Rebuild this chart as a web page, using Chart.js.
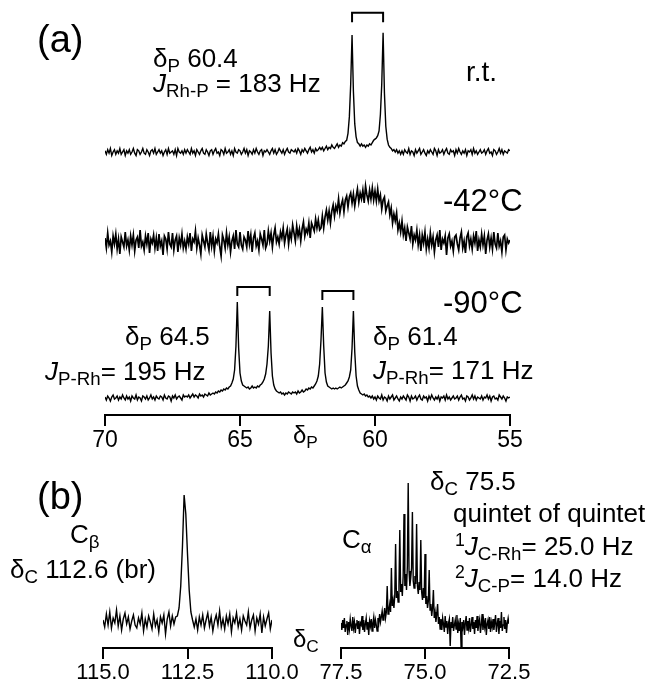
<!DOCTYPE html>
<html>
<head>
<meta charset="utf-8">
<script src="https://cdn.jsdelivr.net/npm/chart.js@4.4.1/dist/chart.umd.min.js"></script>
<style>
  html, body { margin: 0; padding: 0; background: #fff; }
  #fig { position: relative; width: 652px; height: 681px; overflow: hidden;
         font-family: "Liberation Sans", Arial, Helvetica, sans-serif; color: #000; }
  #fig canvas { position: absolute; }
  .t { position: absolute; font-size: 26px; line-height: 1; white-space: nowrap; }
  .t sub { font-size: 0.72em; vertical-align: -0.28em; line-height: 0; }
  .t sup { font-size: 0.68em; vertical-align: 0.5em; line-height: 0; }
  .big { font-size: 38px; }
  .temp { font-size: 31px; }
  .rt { font-size: 28px; }
  .ax { font-size: 24px; }
</style>
</head>
<body>
<div id="fig">
  <canvas id="chartA" width="455" height="460" style="left:80px;top:0px"></canvas>
  <canvas id="chartB1" width="229" height="241" style="left:73px;top:440px"></canvas>
  <canvas id="chartB2" width="228" height="241" style="left:311px;top:440px"></canvas>

  <div class="t big" style="left:37px;top:20px">(a)</div>
  <div class="t" style="left:153px;top:45px">δ<sub>P</sub> 60.4</div>
  <div class="t" style="left:153px;top:70px"><i>J</i><sub>Rh-P</sub> = 183 Hz</div>
  <div class="t rt" style="left:466px;top:58px">r.t.</div>
  <div class="t temp" style="left:443px;top:185px">-42°C</div>
  <div class="t temp" style="left:443px;top:287px">-90°C</div>
  <div class="t" style="left:125px;top:323px">δ<sub>P</sub> 64.5</div>
  <div class="t" style="left:45px;top:358px"><i>J</i><sub>P-Rh</sub>= 195 Hz</div>
  <div class="t" style="left:373px;top:323px">δ<sub>P</sub> 61.4</div>
  <div class="t" style="left:373px;top:357px"><i>J</i><sub>P-Rh</sub>= 171 Hz</div>
  <div class="t ax" style="left:293px;top:423px">δ<sub>P</sub></div>

  <div class="t big" style="left:37px;top:477px">(b)</div>
  <div class="t" style="left:70px;top:521px">C<sub>β</sub></div>
  <div class="t" style="left:10px;top:556px">δ<sub>C</sub> 112.6 (br)</div>
  <div class="t" style="left:342px;top:526px">C<sub>α</sub></div>
  <div class="t" style="left:430px;top:468px">δ<sub>C</sub> 75.5</div>
  <div class="t" style="left:453px;top:500px">quintet of quintet</div>
  <div class="t" style="left:455px;top:533px"><sup>1</sup><i>J</i><sub>C-Rh</sub>= 25.0 Hz</div>
  <div class="t" style="left:455px;top:565px"><sup>2</sup><i>J</i><sub>C-P</sub>= 14.0 Hz</div>
  <div class="t ax" style="left:293px;top:627px">δ<sub>C</sub></div>
</div>

<script>
// 31P spectra, 70 -> 55 ppm, one value every 0.05 ppm (301 points)
const rtVals = [
  1,-2,2,-1,3,-3,0,2,-2,1,-1,3,-2,0,2,-3,1,-1,2,-2,
  0,3,-1,-3,2,1,-2,0,3,-1,-2,2,0,-3,1,2,-1,3,-2,0,
  2,-1,1,-3,0,2,-2,3,-1,0,1,-2,2,-3,3,0,-1,1,-2,2,
  -1,2,0,-2,3,-1,1,-3,2,0,-2,1,3,-1,-2,2,0,-3,1,2,
  -2,1,3,-1,0,-3,2,1,-2,3,-1,0,2,-2,1,-3,3,0,-1,2,
  1,-2,0,3,-1,2,-3,1,0,-2,2,-1,3,0,-2,1,2,-3,1,0,
  2,0,-2,1,3,-1,2,-2,0,3,1,-1,2,-2,1,3,0,-1,2,1,
  0,2,-1,3,1,-2,2,0,3,1,-1,2,4,0,2,-1,3,1,2,4,
  2,4,1,3,5,2,4,3,6,4,3,5,7,4,6,5,8,7,9,10,
  16,30,58,100,52,24,13,8,7,5,7,5,6,4,6,5,7,6,8,10,
  11,12,14,18,32,58,102,50,22,11,6,4,3,1,2,0,2,-1,1,-2,
  1,-2,2,0,-1,3,-2,1,0,-3,2,-1,1,3,-2,0,2,-1,-3,1,
  -1,2,0,-2,3,1,-3,2,-1,0,2,-2,1,3,-1,-2,2,0,1,-3,
  2,-1,3,0,-2,1,-1,2,-3,1,0,2,-2,3,-1,1,-2,0,2,-1,
  0,2,-2,1,3,-1,0,-3,2,1,-2,0,3,-1,2,-2,1,0,-1,2,
  1
];
const m42Vals = [
  4,-6,9,-3,1,-10,6,-2,8,-7,3,-12,5,0,-5,10,-4,2,-8,6,
  -3,7,-9,2,5,-6,12,-4,0,-8,6,-2,9,-11,3,-1,7,-6,4,-9,
  8,-4,1,-13,6,3,-7,10,-2,-5,9,-8,2,6,-10,4,-3,8,-6,1,
  -7,5,-2,9,-9,3,0,11,-6,4,-3,-12,7,1,-5,8,-1,-8,10,-4,
  6,-9,3,-1,8,-5,-14,7,2,-6,9,-3,5,-10,1,6,-7,12,-2,-5,
  10,-3,-7,5,2,-5,11,-2,7,-10,4,9,-4,1,-8,8,3,-3,12,-6,
  -2,11,1,9,-5,7,14,0,5,-2,10,4,14,-1,7,13,-2,10,3,17,
  9,1,16,6,13,1,13,20,6,13,9,19,4,19,15,11,23,14,22,12,
  14,26,14,25,32,22,31,19,31,37,26,36,31,43,29,37,42,30,42,46,
  35,45,49,39,48,36,45,53,40,49,43,52,39,56,47,41,52,43,54,42,
  51,41,53,41,47,33,42,45,31,36,40,27,34,19,28,21,29,12,19,10,
  21,7,14,1,15,9,3,16,-2,7,2,12,-3,7,-9,7,-1,10,-7,3,
  -6,9,-3,5,-10,2,7,-5,12,-8,3,-1,6,-13,4,8,-4,1,-9,5,
  7,-2,-8,4,10,-6,1,-11,5,9,-4,3,-7,6,-1,11,-9,2,-5,8,
  -3,6,-12,2,8,-5,4,-7,10,-2,-6,9,-4,1,-10,5,7,-8,3,-1,
  2
];
const m90Vals = [
  1,-2,2,0,-3,1,3,-1,0,2,-2,1,-1,3,0,-2,2,-1,1,-3,
  2,0,-1,3,-2,1,0,-3,2,1,-1,2,-2,0,3,-1,1,-2,2,0,
  -1,2,1,-2,3,0,-1,2,1,-3,2,0,3,-1,1,2,0,-2,3,1,
  2,1,3,0,2,4,1,3,2,0,4,2,3,1,4,3,2,5,3,4,
  5,4,6,5,7,6,8,7,9,8,10,9,11,12,15,19,28,52,96,50,
  25,17,13,12,11,10,11,9,10,12,10,11,10,12,11,13,14,16,19,24,
  34,52,87,45,22,13,9,7,6,5,6,4,5,3,5,4,6,5,4,6,
  5,6,4,7,5,6,8,6,7,9,8,10,9,11,10,12,14,17,22,34,
  58,91,52,25,16,12,11,10,9,10,9,10,9,10,11,10,11,12,13,15,
  17,21,28,50,87,46,22,12,8,5,4,3,4,2,3,1,2,0,2,-1,
  1,-2,2,0,-1,3,-2,1,0,-3,2,-1,1,3,-2,0,2,-1,-3,1,
  -1,2,0,-2,3,1,-3,2,-1,0,2,-2,1,3,-1,-2,2,0,1,-3,
  2,-1,3,0,-2,1,-1,2,-3,1,0,2,-2,3,-1,1,-2,0,2,-1,
  0,2,-2,1,3,-1,0,-3,2,1,-2,0,3,-1,2,-2,1,0,-1,2,
  -2,1,0,3,-1,2,-3,1,2,-1,0,-2,3,1,-1,2,0,-3,1,0,
  1
];
// 13C C-beta, 115 -> 110 ppm every 0.05 ppm (101 points)
const cbVals = [
  2,-5,8,-3,10,-6,4,-1,12,-4,6,-8,3,9,-2,5,-7,1,7,-3,
  -6,4,-2,9,-9,3,-5,6,0,-7,8,-4,2,-10,5,-1,7,-12,3,10,
  -4,6,-2,5,6,14,36,75,127,108,68,32,10,2,-5,3,-8,5,-3,7,
  -6,2,9,-4,5,-9,1,7,-3,11,-5,3,-7,6,-2,8,-10,4,-1,9,
  -5,3,-8,6,1,-3,10,-6,2,7,-9,4,-2,8,-11,5,-4,3,9,-7,
  2
];
// 13C C-alpha, 77.5 -> 72.5 ppm every 0.025 ppm (201 points)
const caVals = [
  3,-4,6,-2,8,-6,1,5,-9,4,-3,7,0,-5,9,-2,4,-7,2,6,
  -3,5,-8,3,1,10,-4,6,-6,2,8,-3,4,-9,5,0,7,-5,3,9,
  -2,6,1,-5,8,3,12,4,9,15,6,10,18,8,14,40,12,16,22,14,
  58,20,26,18,30,82,28,35,24,40,96,34,42,30,50,112,40,52,36,60,
  143,55,40,48,58,114,45,38,50,42,102,40,32,44,36,86,34,26,38,28,
  72,22,30,18,25,56,16,22,10,18,36,8,14,4,12,22,2,9,-3,7,
  -4,8,2,-6,10,-1,5,-8,3,7,-20,4,-2,9,-5,1,6,-3,11,-7,
  2,-5,8,-22,4,-1,6,-9,3,10,-4,5,-2,8,-6,1,9,-3,4,-8,
  6,-2,10,-5,3,7,-7,1,12,-4,5,-1,8,-9,2,6,-3,9,-6,4,
  -1,7,-4,3,11,-6,2,8,-8,5,-2,14,-5,1,9,-3,6,-7,3,8,
  2
];

// coupling brackets (ppm of the two lines)
const rtPair = [60.85, 59.70];
const m90PairA = [65.10, 63.90];
const m90PairB = [61.95, 60.80];

// tick labels
const tickP = [70, 65, 60, 55];
const tickCb = [115.0, 112.5, 110.0];
const tickCa = [77.5, 75.0, 72.5];

// ppm positions of the sampled points
function ppmGrid(start, step, n) {
  const out = [];
  for (let i = 0; i < n; i++) out.push(+(start - i * step).toFixed(3));
  return out;
}
const ppmP = ppmGrid(70, 0.05, rtVals.length);
const ppmCb = ppmGrid(115, 0.05, cbVals.length);
const ppmCa = ppmGrid(77.5, 0.025, caVals.length);

Chart.defaults.font.family = '"Liberation Sans", Arial, sans-serif';
Chart.defaults.color = '#000';

function trace(xs, ys, yAxisID, width) {
  return {
    data: xs.map((x, i) => ({ x: x, y: ys[i] })),
    yAxisID: yAxisID,
    showLine: true,
    borderColor: '#000',
    borderWidth: width || 1.4,
    pointRadius: 0,
    tension: 0
  };
}

function bracket(pair, yAxisID, legY, topY) {
  return {
    data: [
      { x: pair[0], y: legY }, { x: pair[0], y: topY },
      { x: pair[1], y: topY }, { x: pair[1], y: legY }
    ],
    yAxisID: yAxisID,
    showLine: true,
    borderColor: '#000',
    borderWidth: 2,
    pointRadius: 0,
    clip: false
  };
}

// y range so that 0 sits on the given baseline pixel (page coords)
function band(top, bottom, basePx, pxPerUnit) {
  return {
    display: false,
    min: -(bottom - basePx) / pxPerUnit,
    max: (basePx - top) / pxPerUnit
  };
}

function axisX(min, max, ticks, height, fontSize, fmt) {
  return {
    type: 'linear',
    reverse: true,
    min: min,
    max: max,
    afterBuildTicks: s => { s.ticks = ticks.map(v => ({ value: v })); },
    afterFit: s => { s.height = height; },
    border: { display: true, color: '#000', width: 2 },
    grid: { display: true, drawOnChartArea: false, drawTicks: true, tickLength: 11, color: '#000', lineWidth: 2 },
    ticks: { color: '#000', padding: 1, maxRotation: 0, autoSkip: false, font: { size: fontSize }, callback: fmt }
  };
}

const common = {
  responsive: false,
  animation: false,
  events: [],
  plugins: { legend: { display: false }, tooltip: { enabled: false } }
};

// panel (a)
new Chart(document.getElementById('chartA'), {
  type: 'scatter',
  data: {
    datasets: [
      trace(ppmP, rtVals, 'yRT'),
      trace(ppmP, m42Vals, 'yM42', 1.7),
      trace(ppmP, m90Vals, 'yM90'),
      bracket(rtPair, 'yRT', 111, 119),
      bracket(m90PairA, 'yM90', 102, 111),
      bracket(m90PairB, 'yM90', 98, 107)
    ]
  },
  options: {
    ...common,
    layout: { padding: { left: 25, right: 25, top: 8, bottom: 0 } },
    scales: {
      x: axisX(55, 70, tickP, 45, 23, v => String(v)),
      yRT: band(8, 415, 152, 1.17),
      yM42: band(8, 415, 242, 1),
      yM90: band(8, 415, 398, 1)
    }
  }
});

// panel (b), C-beta
new Chart(document.getElementById('chartB1'), {
  type: 'scatter',
  data: { datasets: [trace(ppmCb, cbVals, 'y')] },
  options: {
    ...common,
    layout: { padding: { left: 30, right: 30, top: 10, bottom: 0 } },
    scales: {
      x: axisX(110, 115, tickCb, 33, 22, v => v.toFixed(1)),
      y: band(450, 648, 622, 1)
    }
  }
});

// panel (b), C-alpha
new Chart(document.getElementById('chartB2'), {
  type: 'scatter',
  data: { datasets: [trace(ppmCa, caVals, 'y')] },
  options: {
    ...common,
    layout: { padding: { left: 30, right: 30, top: 10, bottom: 0 } },
    scales: {
      x: axisX(72.5, 77.5, tickCa, 33, 22, v => v.toFixed(1)),
      y: band(450, 648, 626, 1)
    }
  }
});
</script>
</body>
</html>
